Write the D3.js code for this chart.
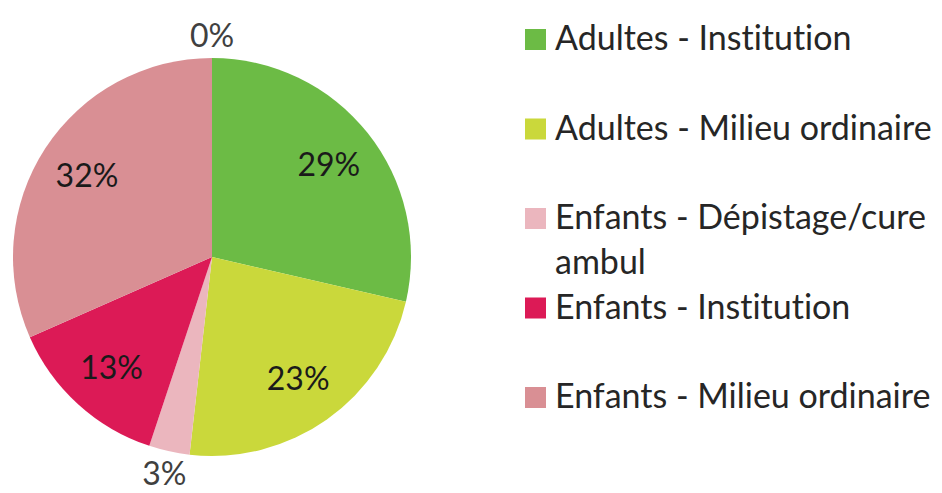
<!DOCTYPE html>
<html>
<head>
<meta charset="utf-8">
<script src="https://cdn.jsdelivr.net/npm/d3@7"></script>
<style>
  html, body { margin: 0; padding: 0; background: #fff; }
  svg { display: block; }
  text { font-family: Lato, "Open Sans", sans-serif; font-variant-ligatures: none; font-feature-settings: "liga" 0, "clig" 0; }
</style>
</head>
<body>
<svg id="chart" width="942" height="493"></svg>
<script>
// Répartition par catégorie (en %)
const categories = [
  "Adultes - Institution",
  "Adultes - Milieu ordinaire",
  "Enfants - Dépistage/cure ambul",
  "Enfants - Institution",
  "Enfants - Milieu ordinaire",
  "Autre"
];
const values = [28.6, 23.2, 3.3, 13.3, 31.6, 0];
const colors = ["#6cbb45", "#cad83b", "#ebb6be", "#dc1a56", "#d98f94", "#9e9e9e"];
// Légende : libellés répartis sur une ou deux lignes
const legendLines = [
  ["Adultes - Institution"],
  ["Adultes - Milieu ordinaire"],
  ["Enfants - Dépistage/cure", "ambul"],
  ["Enfants - Institution"],
  ["Enfants - Milieu ordinaire"]
];

const svg = d3.select("#chart");
const cx = 212, cy = 257, r = 199;

const data = categories.map((c, i) => ({ name: c, value: values[i], color: colors[i] }));
const total = d3.sum(values);

const pie = d3.pie().sort(null).value(d => d.value);
const arcs = pie(data);
const arc = d3.arc().innerRadius(0).outerRadius(r);
const inLabel = d3.arc().innerRadius(r * 0.75).outerRadius(r * 0.75);
const outLabel = d3.arc().innerRadius(r * 1.115).outerRadius(r * 1.115);

const g = svg.append("g").attr("transform", `translate(${cx},${cy})`);

g.selectAll("path.slice")
  .data(arcs.filter(a => a.data.value > 0))
  .join("path")
  .attr("class", "slice")
  .attr("d", arc)
  .attr("fill", d => d.data.color);

const pct = v => Math.round(v / total * 100) + "%";
const isSmall = d => d.data.value / total < 0.05;

g.selectAll("text.lbl")
  .data(arcs)
  .join("text")
  .attr("class", "lbl")
  .attr("transform", d => `translate(${(isSmall(d) ? outLabel : inLabel).centroid(d)})`)
  .attr("text-anchor", "middle")
  .attr("dy", "0.36em")
  .attr("font-size", 32)
  .attr("fill", d => isSmall(d) ? "#404040" : "#1a1a1a")
  .text(d => pct(d.data.value));

// Légende (positions des lignes de base)
const legendY = d3.scalePoint()
  .domain(d3.range(legendLines.length))
  .range([50, 408]);
const lineH = 45;
const box = 21;

const lg = svg.append("g");
const items = lg.selectAll("g.item")
  .data(legendLines)
  .join("g")
  .attr("class", "item")
  .attr("transform", (d, i) => `translate(525,${legendY(i)})`);

items.append("rect")
  .attr("x", 0).attr("y", -box)
  .attr("width", box).attr("height", box)
  .attr("fill", (d, i) => colors[i]);

items.selectAll("text")
  .data(d => d)
  .join("text")
  .attr("x", 30)
  .attr("y", (d, j) => j * lineH)
  .attr("font-size", 34)
  .attr("fill", "#262626")
  .text(d => d);
</script>
</body>
</html>
